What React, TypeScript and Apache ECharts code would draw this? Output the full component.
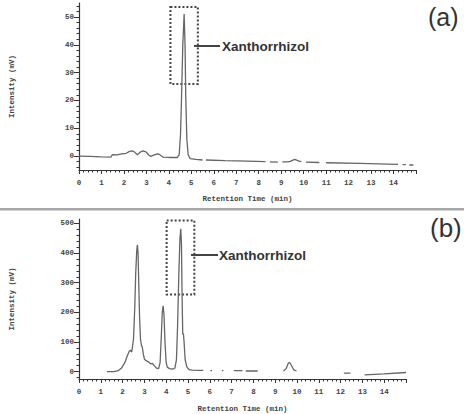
import React, { useEffect, useRef } from "react";
import * as echarts from "echarts";

// Retention time (min) / intensity (mV). null = gap in the trace.
const traceA: [number, number | null][] = [
  [0, 0], [0.5, -0.1], [1.0, -0.3], [1.42, -0.4], [1.48, 0.5], [1.7, 0.4], [1.9, 0.8], [2.1, 1.0],
  [2.25, 1.7], [2.35, 1.9], [2.45, 1.6], [2.6, 0.5], [2.72, 1.4], [2.85, 1.9], [2.98, 1.5],
  [3.1, 0.4], [3.2, -0.1], [3.35, 0.4], [3.5, 0.8], [3.6, 0.5], [3.75, -0.4], [4.0, -0.5],
  [4.38, -0.5], [4.46, 0.5], [4.52, 8], [4.56, 20], [4.62, 40], [4.68, 51], [4.72, 40],
  [4.75, 22], [4.8, 6], [4.86, 0.5], [4.95, -0.9], [5.2, -1.2], [5.5, -1.4],
  [5.56, null], [5.65, -1.4], [6.5, -1.6], [7.5, -1.8], [8.3, -2.0],
  [8.4, null], [8.5, -2.1], [8.85, -2.2], [8.95, null], [9.05, -2.1], [9.3, -2.1],
  [9.4, -1.9], [9.6, -1.2], [9.8, -1.8], [9.9, -2.0], [9.98, null],
  [10.1, -2.2], [10.7, -2.3], [10.85, null], [11.0, -2.4], [12.5, -2.6], [14.2, -3.0],
  [14.3, null], [14.4, -3.1], [14.55, -3.1], [14.62, null], [14.7, -3.2], [14.88, -3.2],
];

const traceB: [number, number | null][] = [
  [1.28, 0], [1.6, 0], [1.8, 3], [1.95, 12], [2.1, 30], [2.2, 50], [2.3, 68], [2.36, 72],
  [2.42, 66], [2.5, 110], [2.56, 220], [2.6, 330], [2.65, 410], [2.68, 428], [2.71, 400],
  [2.74, 300], [2.78, 180], [2.82, 110], [2.87, 86], [2.9, 84], [2.95, 60], [3.0, 42],
  [3.1, 36], [3.2, 32], [3.3, 26], [3.37, 28], [3.45, 20], [3.55, 12], [3.65, 10],
  [3.72, 30], [3.77, 110], [3.82, 200], [3.86, 222], [3.9, 190], [3.95, 90], [4.0, 30],
  [4.05, 15], [4.15, 10], [4.3, 8], [4.4, 12], [4.47, 40], [4.52, 150], [4.58, 330],
  [4.63, 450], [4.67, 482], [4.7, 430], [4.73, 250], [4.76, 125], [4.79, 128], [4.82, 100],
  [4.87, 40], [4.95, 15], [5.05, 7], [5.2, 5], [5.5, 4], [5.7, 4],
  [5.8, null], [6.03, 3], [6.1, 3], [6.2, null], [6.55, 3], [6.62, 3], [6.7, null],
  [7.1, 3], [7.5, 3], [7.55, null], [7.65, 2], [8.2, 2], [8.3, null],
  [9.38, 2], [9.5, 10], [9.6, 28], [9.65, 31], [9.72, 24], [9.85, 6], [9.98, 2],
  [10.1, null], [12.15, -5], [12.45, -5], [12.6, null], [13.1, -11], [14.0, -8], [15.0, -3],
];

const ticksA = [0, 10, 20, 30, 40, 50];
const minorA = [-4, -2, 2, 4, 6, 8, 12, 14, 16, 18, 22, 24, 26, 28, 32, 34, 36, 38, 42, 44, 46, 48, 52, 54];
const ticksB = [0, 100, 200, 300, 400, 500];
const minorB = [-20, 20, 40, 60, 80, 120, 140, 160, 180, 220, 240, 260, 280, 320, 340, 360, 380, 420, 440, 460, 480];

// Highlight boxes around the Xanthorrhizol peak: [t0, y0, t1, y1]
const boxA = [4.07, 53.6, 5.29, 25.9];
const boxB = [4.02, 510, 5.29, 260];

const compoundLabel = "Xanthorrhizol";
const xTitle = "Retention Time (min)";
const yTitle = "Intensity (mV)";

const toData = (arr: [number, number | null][]) =>
  arr.map(([t, v]) => (v === null ? [t, "-"] : [t, v]));

export default function App() {
  const ref = useRef<HTMLDivElement>(null);
  useEffect(() => {
    if (!ref.current) return;
    const chart = echarts.init(ref.current, undefined, { renderer: "svg" });
    const mono = { fontFamily: "Liberation Mono", fontWeight: "bold" as const, fontSize: 7.5, color: "#444" };
    const axisColor = "#333";
    const xAxisBase = (gridIndex: number, gap: number) => ({
      type: "value" as const,
      gridIndex,
      min: 0,
      max: 15,
      interval: 1,
      name: xTitle,
      nameLocation: "middle" as const,
      nameGap: gap,
      nameTextStyle: { ...mono },
      axisLine: { onZero: false, lineStyle: { color: axisColor, width: 1.2 } },
      axisTick: { length: 4, lineStyle: { color: axisColor } },
      minorTick: { show: true, splitNumber: 5, length: 2.5, lineStyle: { color: axisColor } },
      axisLabel: { ...mono, margin: 9, showMaxLabel: false },
      splitLine: { show: false },
    });
    const yMain = (gridIndex: number, min: number, max: number, ticks: number[]) => ({
      type: "value" as const,
      gridIndex,
      position: "left" as const,
      min,
      max,
      name: yTitle,
      nameLocation: "middle" as const,
      nameGap: 63,
      nameRotate: 90,
      nameTextStyle: { ...mono },
      axisLine: { show: true, onZero: false, lineStyle: { color: axisColor, width: 1.2 } },
      axisTick: { show: true, length: 5, customValues: ticks, lineStyle: { color: axisColor } },
      axisLabel: { ...mono, margin: 5, customValues: ticks },
      splitLine: { show: false },
    });
    const yMinor = (gridIndex: number, min: number, max: number, ticks: number[]) => ({
      type: "value" as const,
      gridIndex,
      position: "left" as const,
      min,
      max,
      axisLine: { show: false },
      axisTick: { show: true, length: 2.5, customValues: ticks, lineStyle: { color: axisColor } },
      axisLabel: { show: false, customValues: ticks },
      splitLine: { show: false },
    });
    const boxStyle = {
      color: "rgba(0,0,0,0)",
      borderColor: "#444",
      borderWidth: 2,
      borderType: "dotted" as const,
    };
    const lineStyle = { color: "#666", width: 1.3 };
    chart.setOption({
      animation: false,
      backgroundColor: "#fff",
      grid: [
        { left: 73, right: 48, top: 3, bottom: 244 },
        { left: 74, right: 58, top: 219, bottom: 30 },
      ],
      xAxis: [xAxisBase(0, 25), xAxisBase(1, 26)],
      yAxis: [
        yMain(0, -5, 55, ticksA),
        yMinor(0, -5, 55, minorA),
        yMain(1, -25, 515, ticksB),
        yMinor(1, -25, 515, minorB),
      ],
      series: [
        {
          type: "line",
          xAxisIndex: 0,
          yAxisIndex: 0,
          data: toData(traceA),
          showSymbol: false,
          symbol: "none",
          connectNulls: false,
          lineStyle,
          markArea: {
            silent: true,
            itemStyle: boxStyle,
            data: [[{ coord: [boxA[0], boxA[1]] }, { coord: [boxA[2], boxA[3]] }]],
          },
        },
        {
          type: "line",
          xAxisIndex: 1,
          yAxisIndex: 2,
          data: toData(traceB),
          showSymbol: false,
          symbol: "none",
          connectNulls: false,
          lineStyle,
          markArea: {
            silent: true,
            itemStyle: boxStyle,
            data: [[{ coord: [boxB[0], boxB[1]] }, { coord: [boxB[2], boxB[3]] }]],
          },
        },
      ],
      graphic: [
        { type: "rect", shape: { x: 0, y: 208, width: 464, height: 2.5 }, style: { fill: "#a8a8a8" } },
        { type: "line", shape: { x1: 194, y1: 46, x2: 220, y2: 46 }, style: { stroke: "#444", lineWidth: 2 } },
        { type: "line", shape: { x1: 191, y1: 255, x2: 218, y2: 255 }, style: { stroke: "#444", lineWidth: 2 } },
        {
          type: "text",
          x: 222,
          y: 46,
          style: { text: compoundLabel, fontFamily: "Liberation Sans", fontWeight: "bold", fontSize: 13.5, fill: "#333", verticalAlign: "middle" },
        },
        {
          type: "text",
          x: 219,
          y: 255,
          style: { text: compoundLabel, fontFamily: "Liberation Sans", fontWeight: "bold", fontSize: 13.5, fill: "#333", verticalAlign: "middle" },
        },
        {
          type: "text",
          x: 428,
          y: 17,
          style: { text: "(a)", fontFamily: "Liberation Sans", fontSize: 25, fill: "#333", verticalAlign: "middle" },
        },
        {
          type: "text",
          x: 430,
          y: 228,
          style: { text: "(b)", fontFamily: "Liberation Sans", fontSize: 26, fill: "#333", verticalAlign: "middle" },
        },
      ],
    });
    return () => chart.dispose();
  }, []);
  return (
    <div
      ref={ref}
      style={{ position: "fixed", left: 0, top: 0, width: 464, height: 414, background: "#fff" }}
    />
  );
}
